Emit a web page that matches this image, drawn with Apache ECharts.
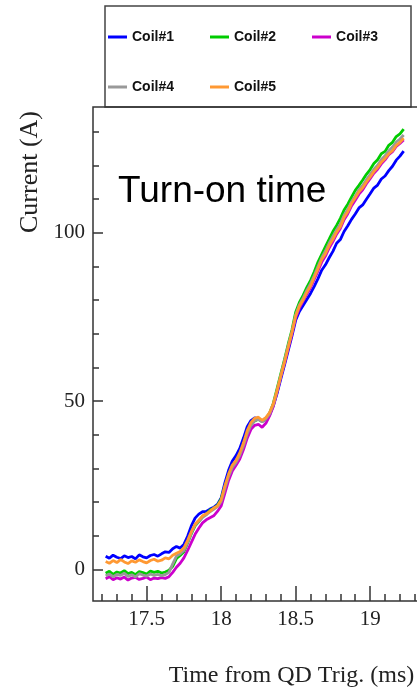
<!DOCTYPE html>
<html>
<head>
<meta charset="utf-8">
<script src="https://cdn.jsdelivr.net/npm/echarts@6/dist/echarts.min.js"></script>
<style>
  html, body { margin: 0; padding: 0; background: #fff; }
  #chart { width: 417px; height: 691px; }
</style>
</head>
<body>
<div id="chart"></div>
<script>
// time axis (ms from QD trigger)
const times = [
  17.225, 17.25, 17.275, 17.3, 17.325, 17.35, 17.375, 17.4, 17.425, 17.45,
  17.475, 17.5, 17.525, 17.55, 17.575, 17.6, 17.625, 17.65, 17.675, 17.7,
  17.725, 17.75, 17.775, 17.8, 17.825, 17.85, 17.875, 17.9, 17.925, 17.95,
  17.975, 18.0, 18.025, 18.05, 18.075, 18.1, 18.125, 18.15, 18.175, 18.2,
  18.225, 18.25, 18.275, 18.3, 18.325, 18.35, 18.375, 18.4, 18.425, 18.45,
  18.475, 18.5, 18.525, 18.55, 18.575, 18.6, 18.625, 18.65, 18.675, 18.7,
  18.725, 18.75, 18.775, 18.8, 18.825, 18.85, 18.875, 18.9, 18.925, 18.95,
  18.975, 19.0, 19.025, 19.05, 19.075, 19.1, 19.125, 19.15, 19.175, 19.2,
  19.225
];

const coil1 = [
  3.9, 3.3, 4.2, 3.6, 3.2, 4.0, 3.5, 3.8, 3.1, 4.3,
  3.7, 3.4, 4.1, 4.4, 3.9, 4.6, 5.2, 5.0, 6.1, 6.8,
  6.3, 7.4, 9.8, 12.9, 15.2, 16.4, 17.1, 17.2, 17.9, 18.4,
  19.3, 21.2, 25.7, 29.4, 32.2, 33.8, 35.9, 39.0, 42.4, 44.2,
  45.0, 44.8, 44.1, 44.6, 45.9, 48.6, 52.2, 56.5, 60.7, 65.0,
  69.3, 74.0, 76.6, 78.4, 80.2, 82.0, 84.1, 86.4, 88.9, 90.5,
  92.6, 94.5, 96.9, 98.0, 100.4, 102.1, 104.0, 105.6, 107.4, 108.3,
  110.0, 111.6, 113.3, 114.2, 116.0, 116.9, 118.5, 119.8, 121.6, 122.8,
  124.3
];
const coil2 = [
  -1.2, -0.6, -1.5, -0.8, -1.1, -0.4, -1.3, -0.9, -1.6, -0.7,
  -1.0, -1.4, -0.5, -0.9, -0.6, -1.1, -0.8, -0.3, 0.9, 3.2,
  4.1, 5.2, 7.8, 10.6, 12.9, 14.2, 15.6, 16.4, 17.6, 18.1,
  19.0, 20.9, 24.6, 28.0, 30.8, 32.0, 34.1, 37.0, 40.6, 42.9,
  44.1, 44.6, 43.9, 44.8, 46.4, 49.3, 53.6, 58.0, 62.3, 66.9,
  71.1, 76.4, 79.3, 81.4, 83.8, 85.9, 88.4, 91.3, 93.6, 95.9,
  98.1, 100.4, 102.2, 104.3, 106.8, 108.5, 110.6, 112.6, 114.1, 115.7,
  117.4, 118.8, 120.6, 121.7, 123.5, 124.2, 126.0, 126.9, 128.6, 129.4,
  130.8
];
const coil3 = [
  -2.8, -2.2, -3.1, -2.5, -2.9, -2.3, -3.2, -2.6, -2.4, -3.0,
  -2.7, -2.3, -3.1, -2.6, -2.8, -2.5, -2.7, -2.2, -0.9, 0.6,
  1.8, 3.4, 5.6, 8.0, 10.4, 12.2, 13.8, 14.7, 15.3, 15.9,
  17.2, 18.8, 22.6, 26.4, 29.2, 30.9, 32.8, 35.6, 39.0, 41.6,
  42.8, 43.1, 42.2, 43.4, 45.6, 48.4, 52.6, 57.1, 61.2, 65.6,
  69.9, 74.7, 77.6, 79.7, 81.8, 83.7, 86.2, 88.7, 91.3, 93.1,
  95.5, 97.4, 99.6, 101.3, 103.9, 105.7, 108.0, 109.7, 111.5, 112.8,
  114.6, 116.1, 117.7, 118.9, 120.5, 121.7, 123.2, 124.1, 125.7, 126.6,
  127.6
];
const coil4 = [
  -1.9, -1.4, -2.2, -1.5, -1.8, -1.2, -2.1, -1.6, -2.3, -1.3,
  -1.7, -2.0, -1.4, -1.8, -1.5, -1.9, -1.6, -0.9, 1.6, 3.9,
  4.6, 5.6, 8.0, 10.8, 13.1, 14.3, 15.4, 16.2, 17.1, 17.8,
  18.6, 20.2, 24.0, 27.6, 30.3, 31.8, 33.9, 36.8, 40.3, 42.8,
  44.2, 44.6, 43.8, 44.7, 46.2, 48.9, 53.0, 57.5, 61.9, 66.4,
  70.6, 75.6, 78.6, 80.6, 82.9, 84.9, 87.3, 90.0, 92.6, 94.6,
  96.9, 98.9, 100.9, 102.6, 105.2, 107.0, 109.2, 110.9, 112.8, 114.1,
  115.8, 117.3, 118.9, 120.1, 121.8, 122.9, 124.4, 125.5, 127.0, 127.9,
  129.1
];
const coil5 = [
  2.3, 1.8, 2.6, 2.0, 2.9, 2.2, 1.7, 2.5, 2.1, 2.8,
  2.3, 1.9, 2.6, 3.0, 2.4, 2.7, 3.4, 3.1, 4.2, 4.8,
  5.3, 6.4, 8.6, 11.2, 13.4, 14.6, 15.9, 16.5, 17.3, 18.2,
  18.8, 20.6, 24.8, 28.3, 31.0, 32.4, 34.6, 37.6, 41.2, 43.6,
  44.9, 45.2, 44.3, 45.1, 46.6, 49.2, 53.1, 57.4, 61.6, 66.0,
  70.4, 75.3, 78.2, 80.1, 82.3, 84.2, 86.8, 89.3, 92.1, 93.8,
  96.2, 98.1, 100.2, 101.8, 104.6, 106.3, 108.7, 110.4, 112.2, 113.4,
  115.1, 116.6, 118.2, 119.4, 121.0, 122.1, 123.5, 124.4, 126.0, 126.9,
  128.1
];

const seriesNames = ['Coil#1', 'Coil#2', 'Coil#3', 'Coil#4', 'Coil#5'];
const seriesColors = ['#0000ff', '#00cc00', '#cc00cc', '#999999', '#ff9933'];
const seriesValues = [coil1, coil2, coil3, coil4, coil5];

const xMajorTicks = [17.5, 18, 18.5, 19];
const xMinorTicks = [17.2, 17.3, 17.4, 17.6, 17.7, 17.8, 17.9, 18.1, 18.2, 18.3, 18.4,
  18.6, 18.7, 18.8, 18.9, 19.1, 19.2, 19.3];
const yMajorTicks = [0, 50, 100];
const yMinorTicks = [10, 20, 30, 40, 60, 70, 80, 90, 110, 120, 130];

const chart = echarts.init(document.getElementById('chart'));

const serif = '"Liberation Serif", "DejaVu Serif", serif';
const sans = '"Liberation Sans", Arial, sans-serif';
const frameColor = '#333';

function tickAxis(ticks, len, withLabels, extra) {
  return Object.assign({
    type: 'value',
    axisLine: { show: false, onZero: false },
    splitLine: { show: false },
    axisTick: {
      show: true, inside: true, length: len, customValues: ticks,
      lineStyle: { color: frameColor, width: 1.5 }
    },
    axisLabel: withLabels
      ? { show: true, customValues: ticks, color: '#222', fontFamily: serif, fontSize: 21 }
      : { show: false }
  }, extra);
}

// legend text sits a little below its line marker, as in the original
function legendRow(names, top) {
  return {
    left: 108, top: top, padding: 0, orient: 'horizontal',
    itemWidth: 19, itemHeight: 3, itemGap: 36,
    icon: 'rect',
    itemStyle: { borderWidth: 0 },
    textStyle: { fontFamily: sans, fontWeight: 'bold', fontSize: 14, color: '#111', verticalAlign: 'top', padding: [0, 0, 0, 0] },
    data: names
  };
}

const xRange = { min: 17.14, max: 19.348 };
const yRange = { min: -9.42, max: 137.4 };

chart.setOption({
  animation: false,
  backgroundColor: '#fff',
  graphic: [
    {
      type: 'rect', z: -10,
      shape: { x: 105, y: 6, width: 306, height: 101 },
      style: { fill: '#fff', stroke: '#444', lineWidth: 1.5 }
    },
    {
      type: 'text', left: 118, top: 173,
      style: { text: 'Turn-on time', fill: '#000', fontFamily: sans, fontSize: 37 }
    },
    {
      type: 'text', x: 30, y: 172, rotation: Math.PI / 2,
      style: { text: 'Current (A)', fill: '#222', fontFamily: serif, fontSize: 26,
        textAlign: 'center', textVerticalAlign: 'middle' }
    }
  ],
  legend: [
    legendRow(seriesNames.slice(0, 3), 30),
    legendRow(seriesNames.slice(3), 80)
  ],
  grid: [
    { left: 93, top: 107, right: -5, bottom: 90, outerBoundsMode: 'none', show: true,
      backgroundColor: 'rgba(0,0,0,0)', borderColor: frameColor, borderWidth: 1.5 },
    { left: 93, top: 107, right: -5, bottom: 90, outerBoundsMode: 'none' }
  ],
  xAxis: [
    tickAxis(xMajorTicks, 15, true, Object.assign({
      gridIndex: 0, position: 'bottom',
      name: 'Time from QD Trig. (ms)', nameLocation: 'middle', nameGap: 63,
      nameTextStyle: { fontFamily: serif, fontSize: 24, color: '#222', padding: [0, 0, 0, 68] }
    }, xRange)),
    tickAxis(xMinorTicks, 7, false, Object.assign({ gridIndex: 1, position: 'bottom' }, xRange))
  ],
  yAxis: [
    tickAxis(yMajorTicks, 10, true, Object.assign({ gridIndex: 0, position: 'left' }, yRange)),
    tickAxis(yMinorTicks, 6, false, Object.assign({ gridIndex: 1, position: 'left' }, yRange))
  ],
  series: seriesNames.map((name, k) => ({
    name: name,
    type: 'line',
    xAxisIndex: 0,
    yAxisIndex: 0,
    showSymbol: false,
    symbol: 'none',
    color: seriesColors[k],
    lineStyle: { width: 2.8, color: seriesColors[k] },
    data: times.map((t, i) => [t, seriesValues[k][i]])
  }))
});
</script>
</body>
</html>
